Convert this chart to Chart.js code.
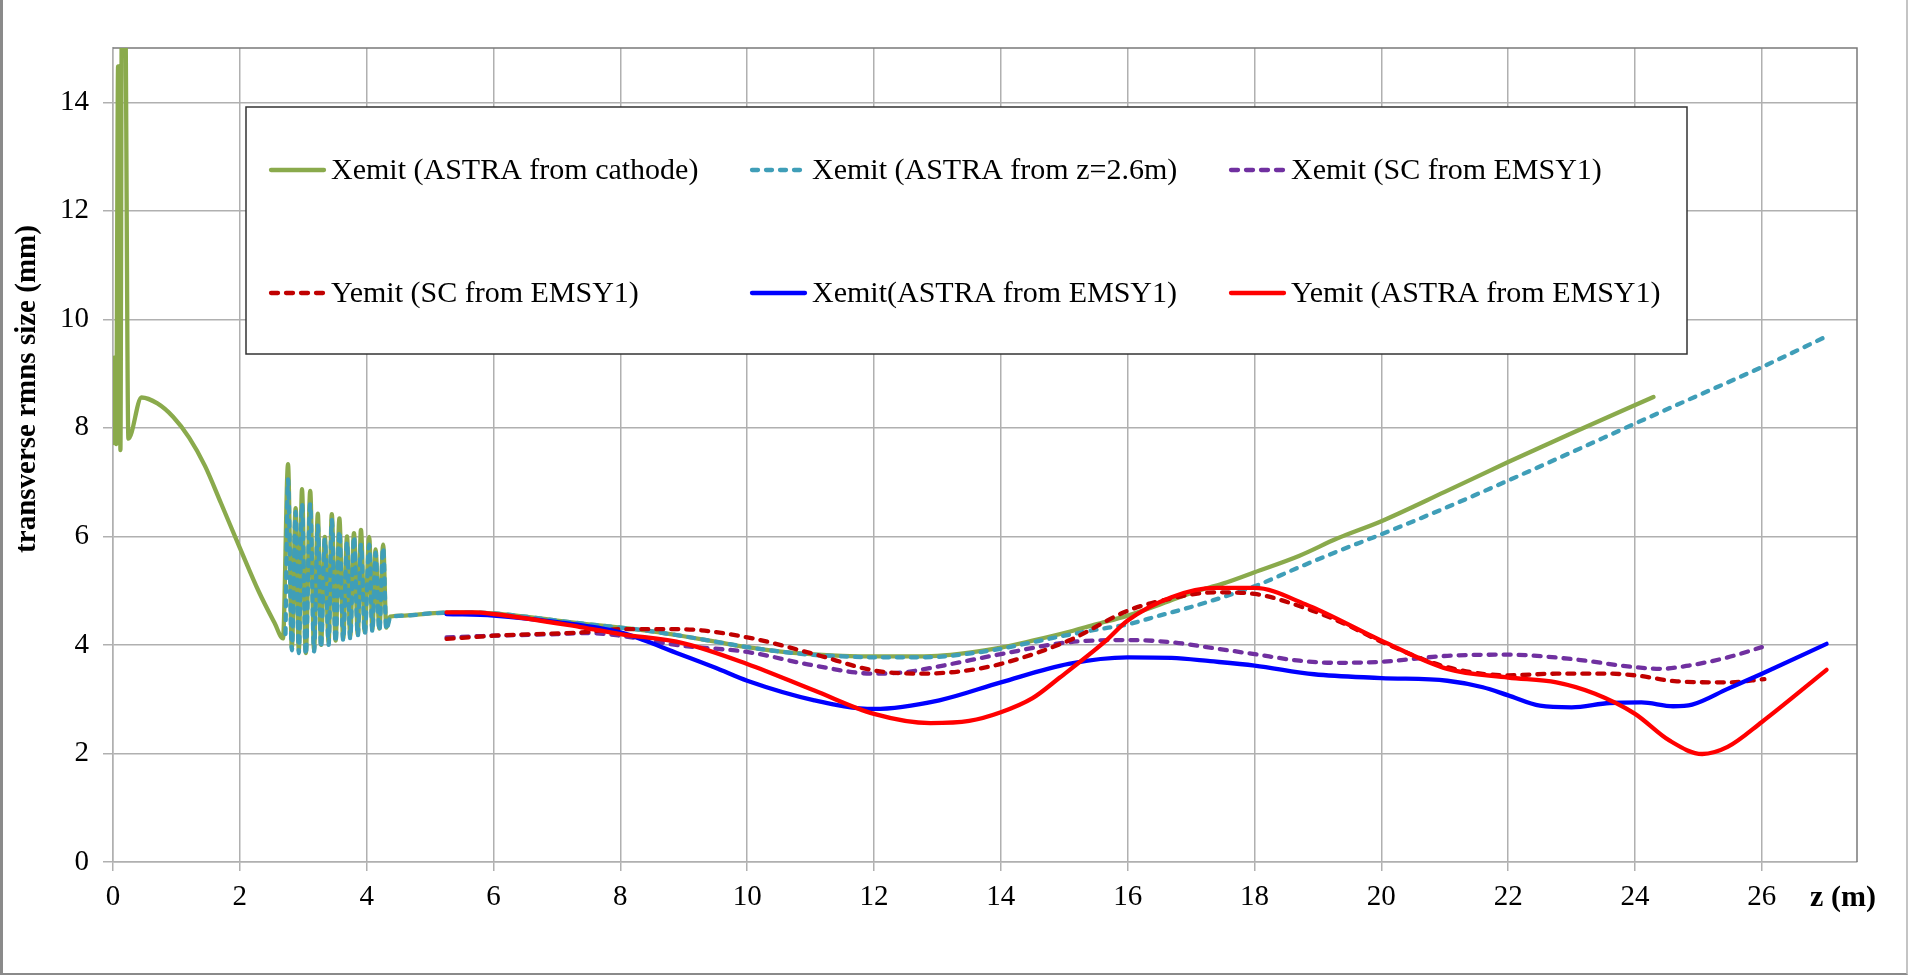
<!DOCTYPE html>
<html>
<head>
<meta charset="utf-8">
<script src="https://cdn.jsdelivr.net/npm/chart.js@4.4.1/dist/chart.umd.min.js"></script>
<style>
html, body { margin: 0; padding: 0; background: #fff; }
#wrap { position: relative; width: 1908px; height: 975px; }
#frame { position: absolute; left: 0; top: 0; width: 1908px; height: 975px; box-sizing: border-box;
  border-left: 3px solid #8a8a8a; border-right: 2px solid #c4c4c4; border-bottom: 2px solid #8a8a8a; pointer-events: none; }
canvas { display: block; }
</style>
</head>
<body>
<div id="wrap">
  <canvas id="chart" width="1908" height="975"></canvas>
  <div id="frame"></div>
</div>
<script>
// z positions (m) and rms sizes (mm)
var zCathode = [0, 0.027, 0.05, 0.08, 0.1, 0.117, 0.14, 0.19, 0.243, 0.45, 0.7, 0.95, 1.2, 1.45, 1.7, 2.0, 2.3, 2.55, 2.68,
  2.76, 2.82, 2.88, 2.93, 2.98, 3.04, 3.11, 3.17, 3.23, 3.28, 3.34, 3.40, 3.45, 3.51, 3.57, 3.63, 3.69, 3.74, 3.80, 3.86,
  3.91, 3.97, 4.04, 4.09, 4.14, 4.20, 4.26, 4.31, 4.37, 4.6, 5.0, 5.5, 6, 6.5, 7, 7.5, 8, 8.5, 9, 9.5, 10, 10.5, 11, 11.5,
  12, 12.5, 13, 13.5, 14, 14.5, 15, 15.5, 16, 16.5, 17, 17.5, 18, 18.7, 19.3, 20, 21, 22, 23, 24.29];
var xemitCathode = [7.72, 9.3, 7.7, 14.66, 14.66, 7.59, 16, 16, 7.8, 8.56, 8.45, 8.2, 7.82, 7.3, 6.62, 5.79, 4.98, 4.4, 4.12,
  7.33, 3.95, 6.52, 3.90, 6.87, 3.85, 6.84, 3.92, 6.42, 4.0, 5.99, 4.05, 6.41, 4.08, 6.33, 4.12, 6.0, 4.16, 6.06, 4.2,
  6.12, 4.24, 5.99, 4.28, 5.76, 4.3, 5.85, 4.32, 4.52, 4.54, 4.58, 4.6, 4.58, 4.52, 4.45, 4.38, 4.32, 4.25, 4.16, 4.06, 3.96, 3.88, 3.83, 3.8,
  3.79, 3.79, 3.8, 3.86, 3.95, 4.08, 4.22, 4.38, 4.54, 4.74, 4.96, 5.13, 5.34, 5.64, 5.96, 6.28, 6.82, 7.37, 7.9, 8.57];

var zFrom26 = [2.72, 2.76, 2.82, 2.88, 2.93, 2.98, 3.04, 3.11, 3.17, 3.23, 3.28, 3.34, 3.40, 3.45, 3.51, 3.57, 3.63, 3.69,
  3.74, 3.80, 3.86, 3.91, 3.97, 4.04, 4.09, 4.14, 4.20, 4.26, 4.31, 4.37, 4.6, 5.0, 5.5, 6, 6.5, 7, 7.5, 8, 8.5, 9, 9.5,
  10, 10.5, 11, 11.5, 12, 12.5, 13, 13.5, 14, 14.5, 15, 15.5, 16, 16.5, 17, 17.5, 18, 18.7, 19.3, 20, 21, 22, 23, 24, 25, 26, 27.01];
var xemitFrom26 = [4.2, 7.05, 3.9, 6.45, 3.85, 6.6, 3.82, 6.6, 3.88, 6.2, 3.95, 5.95, 4.0, 6.3, 4.05, 6.1, 4.08, 5.9,
  4.12, 6.0, 4.16, 5.85, 4.2, 5.85, 4.24, 5.7, 4.26, 5.8, 4.28, 4.5, 4.54, 4.58, 4.6, 4.58, 4.52, 4.45, 4.38, 4.32, 4.25, 4.16, 4.06,
  3.96, 3.88, 3.82, 3.79, 3.77, 3.77, 3.78, 3.84, 3.93, 4.05, 4.17, 4.28, 4.38, 4.54, 4.7, 4.88, 5.08, 5.43, 5.72, 6.04, 6.52, 7.03, 7.55, 8.08, 8.6, 9.12, 9.68];

var zScX = [5.26, 6, 7, 7.5, 8, 8.94, 10, 11.06, 12, 12.5, 13, 14, 15.07, 16, 16.69, 17.3, 18, 18.71, 19.3, 20, 21.04, 22, 23, 24, 24.4, 24.85, 25.46, 26];
var xemitSc = [4.14, 4.17, 4.2, 4.22, 4.17, 3.99, 3.87, 3.62, 3.47, 3.5, 3.6, 3.83, 4.05, 4.09, 4.05, 3.95, 3.83, 3.71, 3.67, 3.69, 3.8, 3.82, 3.74, 3.59, 3.56, 3.62, 3.77, 3.96];

var zScY = [5.26, 6, 7.37, 8, 8.94, 10, 11.06, 12, 12.75, 13.4, 14, 15.07, 16, 16.55, 17.39, 18, 18.75, 19.4, 20, 21.04, 22, 22.76, 23.6, 24, 24.66, 25.46, 26.04];
var yemitSc = [4.11, 4.17, 4.23, 4.29, 4.29, 4.14, 3.83, 3.53, 3.47, 3.52, 3.65, 4.08, 4.63, 4.82, 4.97, 4.94, 4.7, 4.4, 4.06, 3.59, 3.44, 3.47, 3.47, 3.44, 3.33, 3.31, 3.37];

var zAstraX = [5.26, 6, 7, 8, 8.94, 9.5, 10, 11.06, 12, 13.03, 14, 15.07, 16, 16.69, 17.3, 18, 18.94, 20, 21.04, 21.6, 22, 22.5, 23, 23.6, 24.1, 24.6, 24.9, 25.46, 26, 27.02];
var xemitAstra = [4.57, 4.54, 4.42, 4.23, 3.83, 3.58, 3.34, 2.98, 2.82, 2.98, 3.31, 3.65, 3.77, 3.76, 3.7, 3.62, 3.46, 3.39, 3.34, 3.22, 3.07, 2.88, 2.85, 2.93, 2.94, 2.87, 2.9, 3.19, 3.47, 4.02];

var zAstraY = [5.26, 5.68, 6, 7.37, 8, 9, 10, 11.06, 12, 12.89, 13.5, 14, 14.5, 14.93, 15.63, 16, 16.69, 17.39, 18, 18.8, 20, 21.04, 22, 22.76, 23.37, 24, 24.54, 25.06, 25.46, 26, 27.02];
var yemitAstra = [4.6, 4.6, 4.57, 4.33, 4.2, 4.03, 3.65, 3.16, 2.73, 2.56, 2.6, 2.76, 3.02, 3.4, 4.05, 4.45, 4.88, 5.05, 5.05, 4.75, 4.08, 3.56, 3.4, 3.31, 3.1, 2.73, 2.24, 1.99, 2.12, 2.58, 3.54];

var seriesLabels = ['Xemit (ASTRA from cathode)', 'Xemit (ASTRA from z=2.6m)', 'Xemit (SC from EMSY1)',
  'Yemit (SC from EMSY1)', 'Xemit(ASTRA from EMSY1)', 'Yemit (ASTRA from EMSY1)'];
var xTicks = [0, 2, 4, 6, 8, 10, 12, 14, 16, 18, 20, 22, 24, 26];
var yTicks = [0, 2, 4, 6, 8, 10, 12, 14];
var xTitle = 'z (m)';
var yTitle = 'transverse rmns size (mm)';

var FONT = "'Liberation Serif', 'Times New Roman', serif";

function pts(zs, vs) {
  return zs.map(function (z, i) { return { x: z, y: vs[i] }; });
}

function line(i, zs, vs, color, dash) {
  return {
    label: seriesLabels[i],
    data: pts(zs, vs),
    borderColor: color,
    backgroundColor: color,
    borderWidth: 4.3,
    borderDash: dash || [],
    borderCapStyle: 'round',
    borderJoinStyle: 'round',
    pointRadius: 0,
    cubicInterpolationMode: 'monotone',
    fill: false,
    clip: 0,
    order: 5 - i
  };
}

// legend box, axis titles and plot border drawn on the canvas
var decorations = {
  id: 'decorations',
  beforeDatasetsDraw: function (chart) {
    var ctx = chart.ctx, a = chart.chartArea;
    ctx.save();
    ctx.strokeStyle = '#7a7a7a';
    ctx.lineWidth = 1.5;
    ctx.beginPath();
    ctx.moveTo(a.left, a.top);
    ctx.lineTo(a.right, a.top);
    ctx.lineTo(a.right, a.bottom);
    ctx.stroke();
    ctx.restore();
  },
  afterDraw: function (chart) {
    var ctx = chart.ctx, a = chart.chartArea;
    ctx.save();
    // legend
    var bx = a.left + 133, by = a.top + 59, bw = 1441, bh = 247;
    ctx.fillStyle = '#fff';
    ctx.fillRect(bx, by, bw, bh);
    ctx.strokeStyle = '#333';
    ctx.lineWidth = 1.5;
    ctx.strokeRect(bx, by, bw, bh);
    var colX = [23, 504, 983], rowY = [63, 186];
    ctx.font = '30px ' + FONT;
    ctx.textBaseline = 'middle';
    ctx.textAlign = 'left';
    chart.data.datasets.forEach(function (ds, i) {
      var x0 = bx + colX[i % 3], y0 = by + rowY[Math.floor(i / 3)];
      ctx.strokeStyle = ds.borderColor;
      ctx.lineWidth = 4.3;
      ctx.lineCap = 'round';
      ctx.setLineDash(ds.borderDash);
      ctx.beginPath();
      ctx.moveTo(x0 + 2, y0);
      ctx.lineTo(x0 + 55, y0);
      ctx.stroke();
      ctx.setLineDash([]);
      ctx.fillStyle = '#000';
      ctx.fillText(ds.label, x0 + 62, y0 + 1);
    });
    // axis titles
    ctx.fillStyle = '#000';
    ctx.font = 'bold 30px ' + FONT;
    ctx.textAlign = 'center';
    ctx.fillText(xTitle, a.right - 14, a.bottom + 36);
    ctx.font = 'bold 29px ' + FONT;
    ctx.translate(28, a.top + 341);
    ctx.rotate(-Math.PI / 2);
    ctx.fillText(yTitle, 0, 0);
    ctx.restore();
  }
};

new Chart(document.getElementById('chart').getContext('2d'), {
  type: 'line',
  data: {
    datasets: [
      line(0, zCathode, xemitCathode, '#8AAA4C'),
      line(1, zFrom26, xemitFrom26, '#3F9EB8', [6, 8]),
      line(2, zScX, xemitSc, '#7030A0', [7, 8]),
      line(3, zScY, yemitSc, '#C00000', [7, 8]),
      line(4, zAstraX, xemitAstra, '#0000FF'),
      line(5, zAstraY, yemitAstra, '#FF0000')
    ]
  },
  options: {
    responsive: false,
    animation: false,
    events: [],
    layout: { padding: { top: 48, right: 51, bottom: 0, left: 0 } },
    plugins: { legend: { display: false }, tooltip: { enabled: false } },
    scales: {
      x: {
        type: 'linear',
        min: 0,
        max: 27.5,
        afterBuildTicks: function (s) { s.ticks = xTicks.map(function (v) { return { value: v }; }); },
        afterFit: function (s) { s.height = 113; },
        ticks: { color: '#000', font: { family: FONT, size: 29 }, padding: 9, maxRotation: 0, autoSkip: false },
        grid: { color: '#b0b0b0', lineWidth: 1.5, tickLength: 9 },
        border: { color: '#b0b0b0', width: 1.5 }
      },
      y: {
        min: 0,
        max: 15,
        afterBuildTicks: function (s) { s.ticks = yTicks.map(function (v) { return { value: v }; }); },
        afterFit: function (s) { s.width = 113; },
        ticks: { color: '#000', font: { family: FONT, size: 29 }, padding: 14, autoSkip: false },
        grid: { color: '#b0b0b0', lineWidth: 1.5, tickLength: 10 },
        border: { color: '#b0b0b0', width: 1.5 }
      }
    }
  },
  plugins: [decorations]
});
</script>
</body>
</html>
